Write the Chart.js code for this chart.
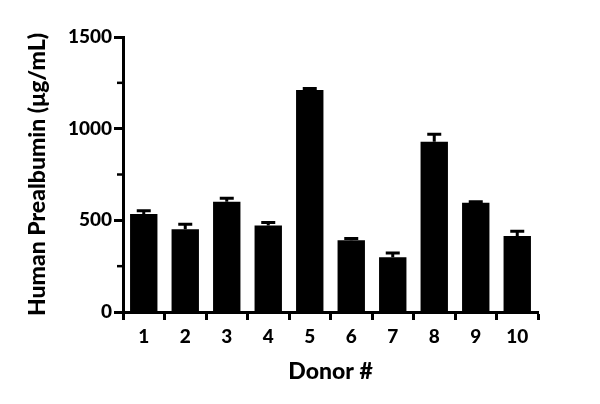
<!DOCTYPE html>
<html>
<head>
<meta charset="utf-8">
<script src="https://cdn.jsdelivr.net/npm/chart.js@4"></script>
<style>
  html, body { margin: 0; padding: 0; background: #fff; }
  #wrap { width: 600px; height: 404px; }
</style>
</head>
<body>
<div id="wrap"><canvas id="prealbuminChart"></canvas></div>
<script>
// Данные
const donors = ['1', '2', '3', '4', '5', '6', '7', '8', '9', '10'];
const meanValues = [534, 452, 601, 472, 1211, 392, 299, 929, 596, 414];
const errValues = [18, 27, 19, 16, 8, 9, 23, 40, 5, 27];
const yTicks = [0, 500, 1000, 1500];
const yMinorTicks = [250, 750, 1250];

const fontFamily = 'Lato, "DejaVu Sans", sans-serif';

// Планки погрешностей
const errorBars = {
    id: 'errorBars',
    afterDatasetsDraw(chart) {
        const ctx = chart.ctx;
        const yScale = chart.scales.y;
        const meta = chart.getDatasetMeta(0);
        ctx.save();
        ctx.strokeStyle = '#000';
        ctx.lineWidth = 3;
        meta.data.forEach((bar, i) => {
            const x = bar.x;
            const yTop = yScale.getPixelForValue(meanValues[i] + errValues[i]);
            ctx.beginPath();
            ctx.moveTo(x, bar.y);
            ctx.lineTo(x, yTop);
            ctx.moveTo(x - 7, yTop);
            ctx.lineTo(x + 7, yTop);
            ctx.stroke();
        });
        ctx.restore();
    }
};

// Малые деления оси Y
const minorTicks = {
    id: 'minorTicks',
    afterDraw(chart) {
        const ctx = chart.ctx;
        const yScale = chart.scales.y;
        const left = chart.chartArea.left;
        ctx.save();
        ctx.strokeStyle = '#000';
        ctx.lineWidth = 2.5;
        yMinorTicks.forEach(v => {
            const y = yScale.getPixelForValue(v);
            ctx.beginPath();
            ctx.moveTo(left - 6, y);
            ctx.lineTo(left, y);
            ctx.stroke();
        });
        ctx.restore();
    }
};

function initChart() {
    new Chart(document.getElementById('prealbuminChart'), {
        type: 'bar',
        data: {
            labels: donors,
            datasets: [{
                data: meanValues,
                backgroundColor: '#000',
                borderWidth: 0,
                barPercentage: 0.66,
                categoryPercentage: 1.0
            }]
        },
        options: {
            responsive: true,
            maintainAspectRatio: false,
            animation: false,
            layout: { padding: { left: 0, right: 62, top: 37, bottom: 0 } },
            plugins: {
                legend: { display: false },
                tooltip: { enabled: false }
            },
            scales: {
                x: {
                    afterFit(scale) { scale.height = 92; },
                    grid: {
                        display: true,
                        drawOnChartArea: false,
                        drawTicks: true,
                        tickLength: 8,
                        tickWidth: 3,
                        tickColor: '#000'
                    },
                    border: { display: true, color: '#000', width: 3 },
                    ticks: {
                        color: '#000',
                        padding: 5,
                        maxRotation: 0,
                        font: { family: fontFamily, size: 19, weight: 900 }
                    },
                    title: {
                        display: true,
                        text: 'Donor #',
                        color: '#000',
                        padding: { top: 10, bottom: 19 },
                        font: { family: fontFamily, size: 23, weight: 900 }
                    }
                },
                y: {
                    min: 0,
                    max: 1500,
                    afterFit(scale) { scale.width = 123; },
                    afterBuildTicks(scale) {
                        scale.ticks = yTicks.map(v => ({ value: v }));
                    },
                    grid: {
                        display: true,
                        drawOnChartArea: false,
                        drawTicks: true,
                        tickLength: 9,
                        tickWidth: 3,
                        tickColor: '#000'
                    },
                    border: { display: true, color: '#000', width: 3 },
                    ticks: {
                        color: '#000',
                        padding: 2,
                        callback: value => String(value),
                        font: { family: fontFamily, size: 19, weight: 900 }
                    },
                    title: {
                        display: true,
                        text: 'Human Prealbumin (\u03bcg/mL)',
                        color: '#000',
                        padding: { top: 24, bottom: 0 },
                        font: { family: fontFamily, size: 23, weight: 900 }
                    }
                }
            }
        },
        plugins: [errorBars, minorTicks]
    });
}

document.addEventListener('DOMContentLoaded', initChart);
</script>
</body>
</html>
